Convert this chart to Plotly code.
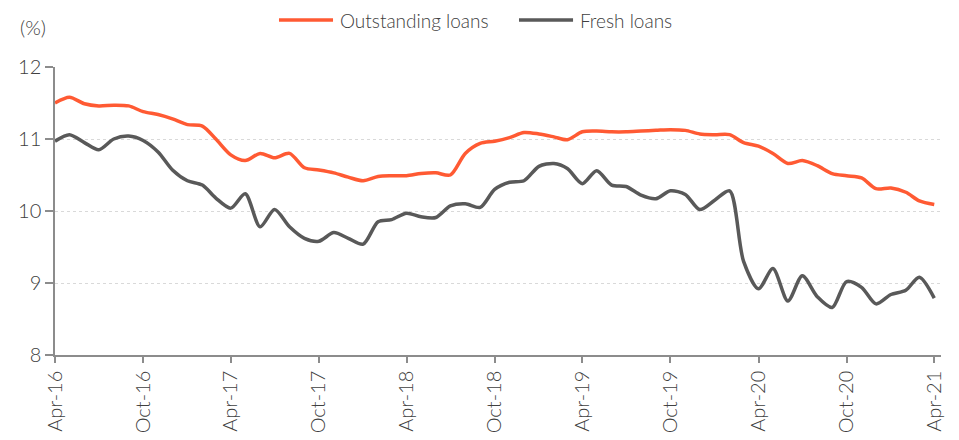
import pandas as pd
import plotly.graph_objects as go

# Monthly lending rates, Apr-2016 to Apr-2021 (%)
months = pd.date_range("2016-04-01", "2021-04-01", freq="MS")

outstanding_loans = [
    11.50, 11.58, 11.49, 11.46, 11.47, 11.46, 11.38, 11.34, 11.28, 11.20,
    11.18, 11.00, 10.78, 10.70, 10.80, 10.74, 10.80, 10.60, 10.57, 10.53,
    10.47, 10.42, 10.48, 10.49, 10.49, 10.52, 10.53, 10.50, 10.80, 10.94,
    10.97, 11.02, 11.09, 11.07, 11.03, 10.99, 11.10, 11.11, 11.10, 11.10,
    11.11, 11.12, 11.13, 11.12, 11.07, 11.06, 11.06, 10.95, 10.90, 10.80,
    10.66, 10.70, 10.63, 10.52, 10.49, 10.46, 10.31, 10.32, 10.26, 10.14,
    10.09,
]

fresh_loans = [
    10.97, 11.06, 10.95, 10.85, 11.00, 11.04, 10.98, 10.82, 10.57, 10.42,
    10.36, 10.18, 10.04, 10.24, 9.78, 10.02, 9.78, 9.62, 9.58, 9.70,
    9.62, 9.54, 9.85, 9.88, 9.97, 9.92, 9.91, 10.07, 10.10, 10.05,
    10.30, 10.40, 10.42, 10.62, 10.66, 10.59, 10.38, 10.56, 10.36, 10.34,
    10.22, 10.17, 10.28, 10.23, 10.02, 10.15, 10.28, 9.30, 8.92, 9.20,
    8.75, 9.10, 8.81, 8.66, 9.02, 8.94, 8.71, 8.84, 8.90, 9.08,
    8.79,
]

series_names = ["Outstanding loans", "Fresh loans"]
y_ticks = [8, 9, 10, 11, 12]

ORANGE = "#FF5A33"
GREY = "#595959"
TEXT = "#404040"
FONT = "Lato, 'Open Sans', sans-serif"
LIGHT = 300

fig = go.Figure()
for name, values, color in zip(series_names, [outstanding_loans, fresh_loans], [ORANGE, GREY]):
    fig.add_trace(go.Scatter(
        x=months, y=values, name=name, mode="lines",
        line=dict(color=color, width=3.5, shape="spline", smoothing=0.8),
        showlegend=False,
    ))

# Legend row above the plot: a line swatch followed by its label
legend_shapes = []
legend_labels = []
for name, color, x0 in zip(series_names, [ORANGE, GREY], [0.2528, 0.5237]):
    legend_shapes.append(dict(
        type="line", xref="paper", yref="paper",
        x0=x0, x1=x0 + 0.061, y0=1.163, y1=1.163,
        line=dict(color=color, width=3.5),
    ))
    legend_labels.append(dict(
        text=name, xref="paper", yref="paper", x=x0 + 0.0666, y=1.163,
        xanchor="left", yanchor="middle", showarrow=False,
        font=dict(size=19, color=TEXT, weight=LIGHT),
    ))

fig.update_layout(
    width=959, height=440,
    margin=dict(l=55, r=18, t=67, b=85),
    paper_bgcolor="white", plot_bgcolor="white",
    font=dict(family=FONT, size=16, color=TEXT, weight=LIGHT),
    showlegend=False,
    shapes=legend_shapes,
    annotations=legend_labels + [dict(
        text="(%)", xref="paper", yref="paper", x=-0.042, y=1.139,
        xanchor="left", yanchor="middle", showarrow=False,
        font=dict(size=20, color=TEXT, weight=LIGHT),
    )],
)

fig.update_xaxes(
    type="date", automargin=False,
    range=["2016-04-01", "2021-04-15"],
    tick0="2016-04-01", dtick="M6", tickformat="%b-%y",
    tickangle=-90, tickfont=dict(size=20, color=TEXT, weight=LIGHT),
    showline=True, linecolor="#8c8c8c", linewidth=1.5,
    ticks="outside", ticklen=6, tickcolor="#8c8c8c", tickwidth=1.5,
    showgrid=False, zeroline=False,
)
fig.update_yaxes(
    automargin=False,
    range=[8, 12], tickvals=y_ticks,
    tickfont=dict(size=20, color=TEXT, weight=LIGHT),
    showline=True, linecolor="#8c8c8c", linewidth=1.5,
    ticks="outside", ticklen=8, tickcolor="#8c8c8c", tickwidth=1.5,
    showgrid=True, gridcolor="#d9d9d9", griddash="dot", gridwidth=1,
    zeroline=False,
)

fig.write_html("out.html")
